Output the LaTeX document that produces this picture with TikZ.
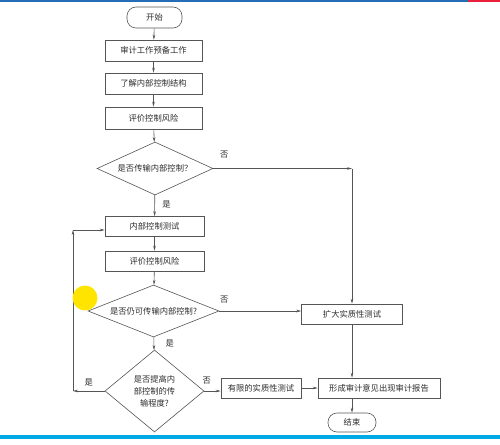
\documentclass[tikz,border=0pt]{standalone}
\usepackage{fontspec}
\newfontfamily\cjk{Noto Sans CJK SC}
\usepackage{xcolor}
\usepackage{tikz}
\usetikzlibrary{shapes.geometric, arrows.meta, positioning, calc}

\definecolor{lineGray}{RGB}{85,85,85}
\definecolor{textGray}{RGB}{45,45,45}
\definecolor{topBlue}{RGB}{35,110,180}
\definecolor{topRed}{RGB}{235,30,60}
\definecolor{bottomCyan}{RGB}{0,170,228}
\definecolor{cursorYellow}{RGB}{255,228,0}

\begin{document}
\begin{tikzpicture}[
    x=1pt, y=-1pt,
    every node/.style={font=\cjk\fontsize{8.3}{12}\selectfont, text=textGray},
    process/.style={rectangle, draw=lineGray, line width=0.6pt, minimum height=20pt, inner sep=1pt, align=center},
    terminal/.style={rectangle, draw=lineGray, line width=0.6pt, rounded corners=9pt, minimum height=20pt, inner sep=1pt},
    decision/.style={diamond, draw=lineGray, line width=0.6pt, inner sep=0pt, aspect=2, align=center},
    arrow/.style={-{Stealth[length=5pt, width=2.6pt]}, draw=lineGray, line width=0.6pt},
    label/.style={font=\cjk\fontsize{8.3}{10}\selectfont}
]
\useasboundingbox (0,0) rectangle (500,444);
\fill[white] (0,0) rectangle (500,444);
\fill[topBlue] (0,0) rectangle (468,1.6);
\fill[topRed] (468,0) rectangle (500,1.6);
\fill[bottomCyan] (0,435) rectangle (500,439);

\node[terminal, minimum width=55pt, minimum height=21pt] (start) at (154.5,17.5) {开始};
\node[process, minimum width=97pt, minimum height=21pt] (prepare) at (153.5,50.5) {审计工作预备工作};
\node[process, minimum width=97pt, minimum height=21pt] (learn) at (153.5,83.5) {了解内部控制结构};
\node[process, minimum width=97pt, minimum height=22pt] (assess) at (153.5,118) {评价控制风险};
\node[decision, minimum width=116pt, minimum height=53pt] (rely) at (155,168.5) {是否传输内部控制？};
\node[process, minimum width=99pt] (test) at (154.5,226.5) {内部控制测试};
\node[process, minimum width=99pt] (reassess) at (154.5,261) {评价控制风险};
\node[decision, minimum width=131pt, minimum height=52pt] (still) at (153.5,311) {是否仍可传输内部控制?};
\node[decision, minimum width=99pt, minimum height=82pt, aspect=1.2] (raise) at (154.5,391) {是否提高内\\部控制的传\\输程度?};
\node[process, minimum width=80pt] (limited) at (261,388) {有限的实质性测试};
\node[process, minimum width=101pt] (expand) at (352,314) {扩大实质性测试};
\node[process, minimum width=122pt] (report) at (379,388) {形成审计意见出现审计报告};
\node[terminal, minimum width=48pt, minimum height=19pt] (finish) at (352,422.5) {结束};

\coordinate (rightTurn) at (rely.east -| expand.north);
\coordinate (loopLow) at (73,391);
\coordinate (loopHigh) at (73,230);

\draw[arrow] (start) -- (prepare);
\draw[arrow] (prepare) -- (learn);
\draw[arrow] (learn) -- (assess);
\draw[arrow] (assess) -- (rely);
\draw[arrow] (rely) -- node[right, label, pos=0.45, xshift=4pt] {是} (test);
\draw[arrow] (test) -- (reassess);
\draw[arrow] (reassess) -- (still);
\draw[arrow] (still) -- node[right, label, xshift=8pt] {是} (raise);

\draw[arrow] (rely.east) -- node[above, label, pos=0.08, yshift=7pt] {否} (rightTurn);
\draw[arrow] (rightTurn) -- (expand.north);
\draw[arrow] (still.east) -- node[above, label, pos=0.06, yshift=4pt] {否} (still.east -| expand.west);
\draw[arrow] (expand.south) -- (expand.south |- report.north);
\draw[arrow] (raise.east) -- node[above, label, pos=0.15, yshift=3pt] {否} (raise.east -| limited.west);
\draw[arrow] (limited) -- (report);
\draw[arrow] (finish.north |- report.south) -- (finish.north);

\draw[arrow] (raise.west) -- node[above, label, pos=0.5, yshift=1pt] {是} (loopLow);
\draw[arrow] (loopLow) -- (loopHigh);
\draw[arrow] (loopHigh) -- (loopHigh -| test.west);

\fill[cursorYellow] (85,298) circle (12.5);
\end{tikzpicture}
\end{document}
